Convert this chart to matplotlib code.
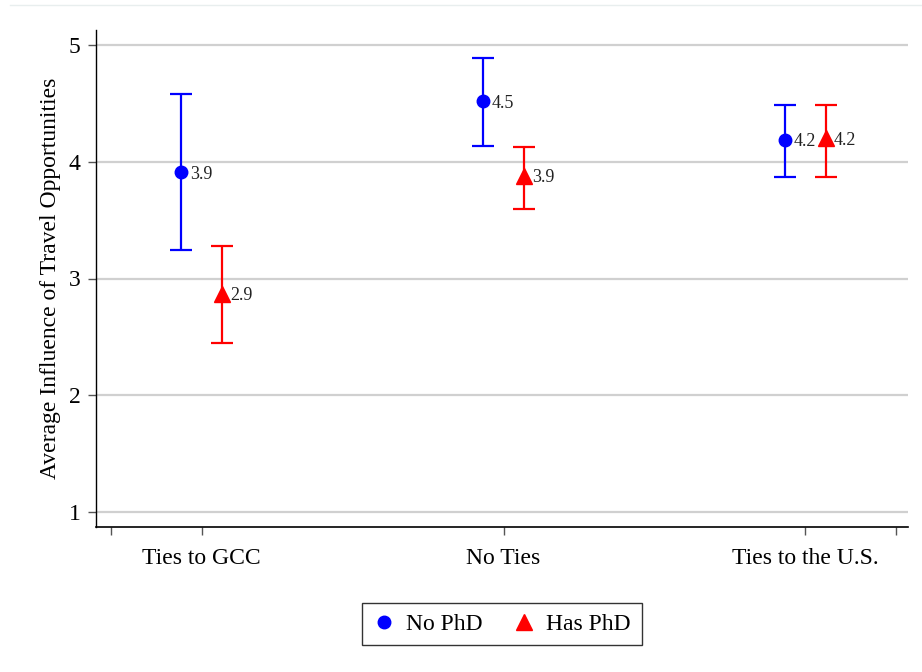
import matplotlib
matplotlib.use('Agg')
import matplotlib.pyplot as plt
import numpy as np
from matplotlib.lines import Line2D

# =============================================================================
# Data
# =============================================================================

categories = ['Ties to GCC', 'No Ties', 'Ties to the U.S.']

no_phd_mean = [3.91, 4.52, 4.19]
no_phd_lo = [3.24, 4.14, 3.87]
no_phd_hi = [4.58, 4.89, 4.49]
no_phd_lab = ['3.9', '4.5', '4.2']

has_phd_mean = [2.87, 3.88, 4.20]
has_phd_lo = [2.45, 3.60, 3.87]
has_phd_hi = [3.28, 4.13, 4.49]
has_phd_lab = ['2.9', '3.9', '4.2']

# =============================================================================
# Plot
# =============================================================================

plt.rcParams['font.family'] = ['Liberation Serif', 'DejaVu Serif']

fig = plt.figure(figsize=(9.22, 6.72), dpi=100)
ax = fig.add_axes([96/922, 1 - 527/672, (908-96)/922, (527-30)/672])

xc = np.arange(1, len(categories) + 1)
off = 0.067

def draw(x, mean, lo, hi, labs, color, marker, ms):
    mean = np.array(mean)
    yerr = [mean - np.array(lo), np.array(hi) - mean]
    ax.errorbar(x, mean, yerr=yerr, fmt='none', ecolor=color,
                elinewidth=1.6, capsize=8, capthick=1.6, zorder=3)
    ax.plot(x, mean, linestyle='none', marker=marker, color=color,
            markersize=ms, zorder=4)
    for xi, yi, t in zip(x, mean, labs):
        ax.annotate(t, (xi, yi), xytext=(6, -1.5), textcoords='offset points',
                    ha='left', va='center', fontsize=13, color='#222222', zorder=5)

draw(xc - off, no_phd_mean, no_phd_lo, no_phd_hi, no_phd_lab, '#0000ff', 'o', 9)
draw(xc + off, has_phd_mean, has_phd_lo, has_phd_hi, has_phd_lab, '#ff0000', '^', 11)

ax.set_xlim(0.65, 3.34)
ax.set_ylim(0.87, 5.13)
ax.set_xticks([0.7, 1, 2, 3, 3.3])
ax.set_xticklabels(['', categories[0], categories[1], categories[2], ''], fontsize=17)
ax.set_yticks([1, 2, 3, 4, 5])
ax.set_yticklabels(['1', '2', '3', '4', '5'], fontsize=17)
ax.tick_params(axis='both', length=6, width=1, color='#555555', pad=5)
ax.tick_params(axis='x', pad=9)

ax.yaxis.grid(True, color='#d0d0d0', linewidth=1.6)
ax.set_axisbelow(True)
for s in ['top', 'right']:
    ax.spines[s].set_visible(False)
ax.spines['left'].set_linewidth(1)
ax.spines['bottom'].set_linewidth(1.2)

ax.set_ylabel('Average Influence of Travel Opportunities', fontsize=17, labelpad=6)

handles = [Line2D([], [], linestyle='none', marker='o', color='#0000ff', markersize=9),
           Line2D([], [], linestyle='none', marker='^', color='#ff0000', markersize=11)]
leg = fig.legend(handles, ['No PhD', 'Has PhD'], loc='center', ncol=2,
                 bbox_to_anchor=(502/922, 1 - 624/672), fontsize=17, frameon=True,
                 fancybox=False, edgecolor='black', handlelength=0.9,
                 handletextpad=0.5, columnspacing=1.3, borderpad=0.45,
                 borderaxespad=0)
leg.get_frame().set_linewidth(1)

# faint border line at the top of the figure
fig.add_artist(Line2D([10/922, 1], [1 - 5/672, 1 - 5/672], color='#e8eeee', linewidth=1))

plt.savefig('out.png', dpi=100)
